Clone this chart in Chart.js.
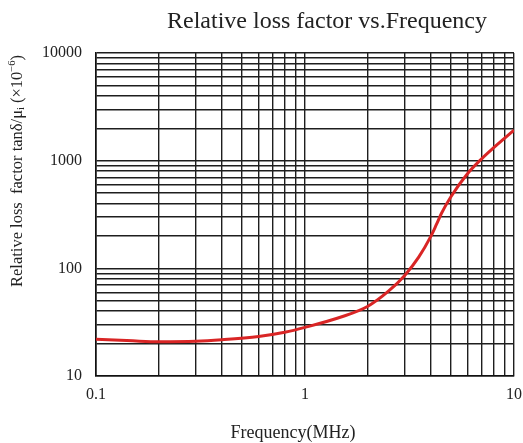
<!DOCTYPE html>
<html>
<head>
<meta charset="utf-8">
<script src="https://cdn.jsdelivr.net/npm/chart.js@4.4.1/dist/chart.umd.min.js"></script>
<style>
html,body{margin:0;padding:0;background:#fff;}
#wrap{width:523px;height:443px;}
</style>
</head>
<body>
<div id="wrap"><canvas id="c" width="523" height="443"></canvas></div>
<script>
const frequencyMHz = [0.1, 0.15, 0.2, 0.3, 0.4, 0.6, 0.8, 1.0, 1.5, 2.0, 2.5, 3.0, 3.5, 4.0, 4.25, 4.5, 5.0, 6.0, 7.0, 8.0, 9.0, 10];
const lossFactor   = [22, 21.2, 20.8, 21, 21.7, 23.3, 25.5, 28.3, 35.5, 44.5, 61, 86, 127, 198, 254, 325, 465, 760, 1040, 1320, 1610, 1920];
const xMajorTicks = [0.1, 1, 10];
const yMajorTicks = [10, 100, 1000, 10000];
const titleText = "Relative loss factor vs.Frequency";
const xTitleText = "Frequency(MHz)";

function logTicks(majors){
  const out = [];
  for (let i = 0; i < majors.length; i++){
    const m = majors[i];
    out.push(m);
    if (i < majors.length - 1){
      for (let k = 2; k <= 9; k++) out.push(+(m * k).toPrecision(6));
    }
  }
  return out;
}

const FONT = "'Liberation Serif', 'Times New Roman', serif";

const bgPlugin = {
  id: 'bg',
  beforeDraw(chart){
    const ctx = chart.ctx;
    ctx.save(); ctx.fillStyle = '#fff'; ctx.fillRect(0,0,chart.width,chart.height); ctx.restore();
  }
};

const textPlugin = {
  id: 'texts',
  afterDraw(chart){
    const ctx = chart.ctx;
    ctx.save();
    ctx.fillStyle = '#222';
    ctx.textBaseline = 'middle';
    ctx.textAlign = 'center';
    ctx.font = '24px ' + FONT;
    ctx.fillText(titleText, 327, 22);
    ctx.font = '18px ' + FONT;
    ctx.fillText(xTitleText, 293, 433);
    // y title, rotated
    ctx.translate(18, 171);
    ctx.rotate(-Math.PI/2);
    const parts = [
      {t: 'Relative loss  factor tan\u03B4/\u03BC', s: 16.5, dy: 0},
      {t: 'i', s: 10.5, dy: 3.5},
      {t: ' (\u00D710', s: 16.5, dy: 0},
      {t: '\u22126', s: 10.5, dy: -6},
      {t: ')', s: 16.5, dy: 0}
    ];
    let total = 0;
    parts.forEach(p => { ctx.font = p.s + 'px ' + FONT; p.w = ctx.measureText(p.t).width; total += p.w; });
    let x = -total/2;
    ctx.textAlign = 'left';
    parts.forEach(p => { ctx.font = p.s + 'px ' + FONT; ctx.fillText(p.t, x, p.dy); x += p.w; });
    ctx.restore();
  }
};

new Chart(document.getElementById('c'), {
  type: 'line',
  data: {
    datasets: [{
      data: frequencyMHz.map((f, i) => ({x: f, y: lossFactor[i]})),
      borderColor: '#d92525',
      borderWidth: 3,
      pointRadius: 0,
      cubicInterpolationMode: 'monotone',
      fill: false
    }]
  },
  options: {
    responsive: false,
    animation: false,
    devicePixelRatio: 1,
    layout: {padding: {left: 0, right: 9, top: 53, bottom: 0}},
    plugins: {legend: {display: false}, tooltip: {enabled: false}, title: {display: false}},
    scales: {
      x: {
        type: 'logarithmic',
        min: 0.1, max: 10,
        afterBuildTicks(s){ s.ticks = logTicks(xMajorTicks).map(v => ({value: v})); },
        afterFit(s){ s.height = 67; s.paddingLeft = 0; s.paddingRight = 0; },
        ticks: {
          autoSkip: false, maxRotation: 0, padding: 9,
          color: '#222', font: {family: FONT, size: 16},
          callback(v){ return xMajorTicks.includes(v) ? String(v) : ''; }
        },
        grid: {color: '#1e1e1e', lineWidth: 1.4, drawTicks: false},
        border: {color: '#111', width: 1.6}
      },
      y: {
        type: 'logarithmic',
        min: 10, max: 10000,
        afterBuildTicks(s){ s.ticks = logTicks(yMajorTicks).map(v => ({value: v})); },
        afterFit(s){ s.width = 96; s.paddingTop = 0; s.paddingBottom = 0; },
        ticks: {
          autoSkip: false, padding: 14,
          color: '#222', font: {family: FONT, size: 16},
          callback(v){ return yMajorTicks.includes(v) ? String(v) : ''; }
        },
        grid: {color: '#1e1e1e', lineWidth: 1.4, drawTicks: false},
        border: {color: '#111', width: 1.6}
      }
    }
  },
  plugins: [bgPlugin, textPlugin]
});
</script>
</body>
</html>
